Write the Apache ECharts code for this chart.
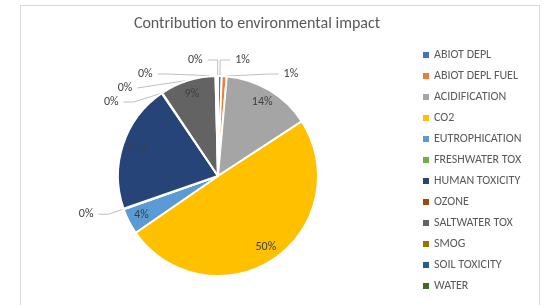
<!DOCTYPE html>
<html>
<head>
<meta charset="utf-8">
<script src="https://cdn.jsdelivr.net/npm/echarts@6/dist/echarts.min.js"></script>
<style>
  html, body { margin: 0; padding: 0; background: #fff; }
  #chart { width: 550px; height: 305px; }
</style>
</head>
<body>
<div id="chart"></div>
<script>
var categories = ["ABIOT DEPL", "ABIOT DEPL FUEL", "ACIDIFICATION", "CO2", "EUTROPHICATION",
   "FRESHWATER TOX", "HUMAN TOXICITY", "OZONE", "SALTWATER TOX", "SMOG", "SOIL TOXICITY", "WATER"];
var shares = [0.6, 0.8, 14.4, 49.6, 4.2, 0.1, 20.8, 0.1, 9.0, 0.2, 0.1, 0.1];
var colors = ["#4472C4", "#ED7D31", "#A5A5A5", "#FFC000", "#5B9BD5", "#70AD47",
   "#264478", "#9E480E", "#636363", "#997300", "#255E91", "#43682B"];

var chart = echarts.init(document.getElementById("chart"));
var font = "Carlito, 'Open Sans', 'Liberation Sans', sans-serif";

function pct(p) {
   return Math.round(p.percent) + "%";
}

// outer pie: the visible slices, small ones labelled outside with a leader line
var pieData = categories.map(function (name, i) {
   var big = shares[i] >= 2;
   return {
      name: name,
      value: shares[i],
      label: { show: !big },
      labelLine: { show: !big }
   };
});

// invisible helper pie so the inside labels sit near the rim like Excel does
var labelData = categories.map(function (name, i) {
   return {
      name: name,
      value: shares[i],
      label: { show: shares[i] >= 2 }
   };
});

var option = {
   color: colors,
   title: {
      text: "Contribution to environmental impact",
      left: 252,
      top: 11,
      textAlign: "center",
      textStyle: { fontFamily: font, fontSize: 16, fontWeight: "normal", color: "#595959" }
   },
   graphic: [{
      type: "rect",
      shape: { x: 20.5, y: 5.5, width: 519, height: 320 },
      style: { fill: null, stroke: "#d9d9d9", lineWidth: 1 },
      silent: true
   }],
   legend: {
      orient: "vertical",
      left: 418,
      top: 44,
      itemWidth: 6,
      itemHeight: 6,
      itemGap: 9,
      icon: "rect",
      itemStyle: { borderWidth: 0 },
      textStyle: { fontFamily: font, fontSize: 12, color: "#595959" },
      data: categories
   },
   series: [{
      type: "pie",
      center: [218, 176],
      radius: 100,
      startAngle: 90,
      clockwise: true,
      avoidLabelOverlap: true,
      itemStyle: { borderColor: "#fff", borderWidth: 2 },
      label: {
         position: "outside",
         fontFamily: font,
         fontSize: 12,
         color: "#404040",
         formatter: pct
      },
      labelLine: {
         length: 16,
         length2: 10,
         lineStyle: { color: "#bfbfbf", width: 1 }
      },
      data: pieData
   }, {
      type: "pie",
      center: [218, 176],
      radius: 166,
      startAngle: 90,
      clockwise: true,
      silent: true,
      legendHoverLink: false,
      itemStyle: { color: "rgba(0,0,0,0)", borderWidth: 0 },
      label: {
         position: "inside",
         fontFamily: font,
         fontSize: 12,
         color: "#404040",
         formatter: pct
      },
      labelLine: { show: false },
      data: labelData
   }]
};
chart.setOption(option);
</script>
</body>
</html>
